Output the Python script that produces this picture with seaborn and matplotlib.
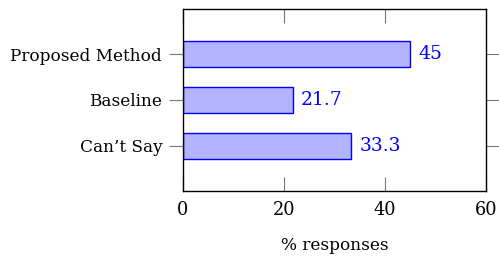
import matplotlib
matplotlib.use("Agg")
import matplotlib.pyplot as plt
import seaborn as sns
import pandas as pd

categories = ["Proposed Method", "Baseline", "Can\u2019t Say"]
values = [45, 21.7, 33.3]
value_labels = ["45", "21.7", "33.3"]
x_ticks = [0, 20, 40, 60]

sns.set_theme(style="white")
plt.rcParams['font.family'] = ['DejaVu Serif']

df = pd.DataFrame({"cat": categories, "val": values})

fig = plt.figure(figsize=(4.99, 2.56), dpi=100)
ax = fig.add_axes([183/499, 1-191/256, (486-183)/499, (191-9)/256])

sns.barplot(data=df, x="val", y="cat", orient="h", ax=ax,
            color="#b3b3ff", edgecolor="#0000ff", linewidth=1.0,
            width=0.58, saturation=1)

ax.set_xlim(0, 60)
ax.set_ylim(2.98, -0.98)
ax.set_xticks(x_ticks)
ax.set_xticklabels([str(t) for t in x_ticks], fontsize=12.8, color="black")
ax.tick_params(axis="y", labelsize=12.2, labelcolor="black")
ax.set_ylabel("")
ax.set_xlabel("% responses", fontsize=12.2, labelpad=13, color="black")

for s in ax.spines.values():
    s.set_visible(True)
    s.set_color("black")
    s.set_linewidth(1.0)

ax.tick_params(axis="x", which="major", direction="in", length=10, width=0.8,
               color="#777777", top=True, bottom=True, pad=7)
ax.tick_params(axis="y", which="major", direction="out", length=10, width=0.8,
               color="#777777", left=True, right=True, pad=5)

for c in ax.containers:
    ax.bar_label(c, labels=value_labels, padding=6, color="#0000ff", fontsize=13.5)

fig.savefig("out.png", dpi=100)
